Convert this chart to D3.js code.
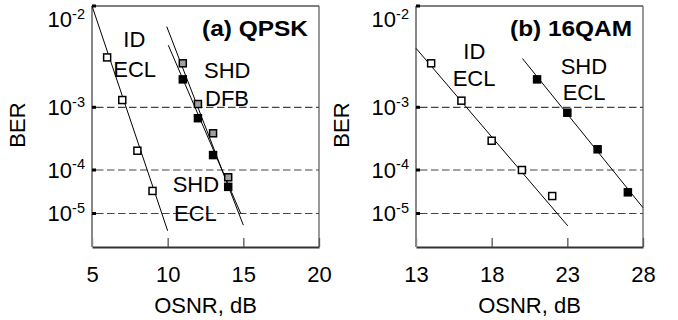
<!DOCTYPE html>
<html><head><meta charset="utf-8">
<script src="https://cdn.jsdelivr.net/npm/d3@7"></script>
<style>
html,body{margin:0;padding:0;background:#fff;}
svg{display:block;}
text{font-family:"Liberation Sans",Arial,sans-serif;fill:#000;}
</style></head>
<body><svg id="c" width="678" height="320"></svg>
<script>
// ---- data ----
const xTicksA = [5, 10, 15, 20];
const xTicksB = [13, 18, 23, 28];
const yTickExps = [-2, -3, -4, -5];
const gridExps = [-3, -4, -5];

const osnrA_ID  = [6, 7, 8, 9];
const berA_ID   = [3.7e-3, 1.21e-3, 2.03e-4, 3.3e-5];
const osnrA_DFB = [11, 12, 13, 14];
const berA_DFB  = [3.17e-3, 1.09e-3, 3.85e-4, 6.8e-5];
const osnrA_ECL = [11, 12, 13, 14];
const berA_ECL  = [2.08e-3, 6.7e-4, 1.73e-4, 4.1e-5];

const osnrB_ID  = [14, 16, 18, 20, 22];
const berB_ID   = [3.17e-3, 1.19e-3, 2.93e-4, 1.0e-4, 2.52e-5];
const osnrB_ECL = [21, 23, 25, 27];
const berB_ECL  = [2.08e-3, 8.2e-4, 2.14e-4, 3.07e-5];

// fitted lines: [osnr, ber] end points
const fitA_ID  = [[5, 1.43e-2], [10, 4.0e-6]];
const fitA_DFB = [[9.94, 8.3e-3], [15.0, 5.4e-6]];
const fitA_ECL = [[10.04, 5.1e-3], [14.83, 1.0e-5]];
const fitB_ID  = [[13, 4.7e-3], [23.03, 5.2e-6]];
const fitB_ECL = [[20.03, 3.6e-3], [28, 1.36e-5]];

// ---- layout ----
const svg = d3.select("#c");
const plotTop = 6, plotBottom = 247, pw = 227;
const FONT = 22;

// BER axis (non-uniform decades, as in the reference)
const yLog = d3.scaleLinear().domain([-2, -3, -4, -5]).range([19.5, 107.3, 170, 213.5]);
const yB = b => yLog(Math.log10(b));

function panel(x0, xTicks, series, fits, labels, title, titleLen) {
  const x = d3.scaleLinear().domain([xTicks[0], xTicks[xTicks.length - 1]]).range([x0, x0 + pw]);
  const g = svg.append("g");

  // grid lines
  g.selectAll("line.grid").data(gridExps).join("line")
    .attr("x1", x0 + 4).attr("x2", x0 + pw)
    .attr("y1", d => yLog(d)).attr("y2", d => yLog(d))
    .attr("stroke", "#444").attr("stroke-width", 1.2)
    .attr("stroke-dasharray", "7.5,3.5");

  // frame top/right
  g.append("line").attr("x1", x0).attr("x2", x0 + pw).attr("y1", plotTop).attr("y2", plotTop)
    .attr("stroke", "#000").attr("stroke-width", 1.2);
  g.append("line").attr("x1", x0 + pw).attr("x2", x0 + pw).attr("y1", plotTop).attr("y2", plotBottom)
    .attr("stroke", "#555").attr("stroke-width", 1.2);

  // x axis
  const ax = d3.axisBottom(x).tickValues(xTicks).tickSizeInner(-9).tickSizeOuter(0).tickPadding(19);
  const axg = g.append("g").attr("transform", `translate(0,${plotBottom})`).call(ax);
  axg.select(".domain").attr("stroke", "#333").attr("stroke-width", 2);
  axg.selectAll(".tick line").attr("stroke", "#555").attr("stroke-width", 1.3);
  axg.selectAll(".tick text").attr("font-size", FONT).attr("font-family", '"Liberation Sans",Arial,sans-serif').attr("fill", "#000");

  // y axis line
  g.append("line").attr("x1", x0).attr("x2", x0).attr("y1", plotTop).attr("y2", plotBottom)
    .attr("stroke", "#888").attr("stroke-width", 2);
  // y tick marks (inward)
  g.selectAll("rect.yt").data(gridExps).join("rect")
    .attr("x", x0).attr("y", d => yLog(d) - 1.5).attr("width", 4).attr("height", 3).attr("fill", "#000");
  g.append("rect").attr("x", x0).attr("y", plotTop - 1.5).attr("width", 4).attr("height", 3).attr("fill", "#000");

  // y labels
  const yl = g.selectAll("text.yl").data(yTickExps).join("text")
    .attr("x", x0 - 7).attr("y", d => yLog(d) + 7.8)
    .attr("text-anchor", "end").attr("font-size", FONT);
  yl.append("tspan").text("10");
  yl.append("tspan").attr("dy", -8.5).attr("font-size", 14.5).text(d => String(d));

  // axis titles
  g.append("text").attr("x", x0 + pw / 2).attr("y", 312.5).attr("text-anchor", "middle")
    .attr("font-size", FONT).text("OSNR, dB");
  g.append("text").attr("transform", `translate(${x0 - 67},125) rotate(-90)`)
    .attr("text-anchor", "middle").attr("font-size", FONT).text("BER");

  // fit lines
  g.selectAll("line.fit").data(fits).join("line")
    .attr("x1", d => x(d[0][0])).attr("y1", d => yB(d[0][1]))
    .attr("x2", d => x(d[1][0])).attr("y2", d => yB(d[1][1]))
    .attr("stroke", "#000").attr("stroke-width", 1);

  // markers
  const s = 7;
  series.forEach(se => {
    g.selectAll(null).data(se.osnr.map((o, i) => [o, se.ber[i]])).join("rect")
      .attr("x", d => x(d[0]) - s / 2).attr("y", d => yB(d[1]) - s / 2)
      .attr("width", s).attr("height", s)
      .attr("fill", se.fill).attr("stroke", "#000").attr("stroke-width", 1.5);
  });

  // labels
  labels.forEach(l => {
    g.append("text").attr("x", x0 + l[1]).attr("y", l[2]).attr("font-size", FONT).text(l[0]);
  });
  g.append("text").attr("x", x0 + pw - 11).attr("y", 36).attr("text-anchor", "end")
    .attr("font-size", 22).attr("font-weight", "bold")
    .attr("textLength", titleLen).attr("lengthAdjust", "spacingAndGlyphs").text(title);
}

panel(92, xTicksA,
  [{osnr: osnrA_ID, ber: berA_ID, fill: "#fff"},
   {osnr: osnrA_DFB, ber: berA_DFB, fill: "#a0a0a0"},
   {osnr: osnrA_ECL, ber: berA_ECL, fill: "#000"}],
  [fitA_ID, fitA_DFB, fitA_ECL],
  [["ID", 31.3, 46.7], ["ECL", 21.3, 76.7], ["SHD", 112, 78.3], ["DFB", 113, 106],
   ["SHD", 80.7, 191.7], ["ECL", 82, 220.5]],
  "(a) QPSK", 106);

panel(416, xTicksB,
  [{osnr: osnrB_ID, ber: berB_ID, fill: "#fff"},
   {osnr: osnrB_ECL, ber: berB_ECL, fill: "#000"}],
  [fitB_ID, fitB_ECL],
  [["ID", 47.3, 59.3], ["ECL", 36.7, 86], ["SHD", 144.7, 74], ["ECL", 146.7, 100]],
  "(b) 16QAM", 122);
</script></body></html>
